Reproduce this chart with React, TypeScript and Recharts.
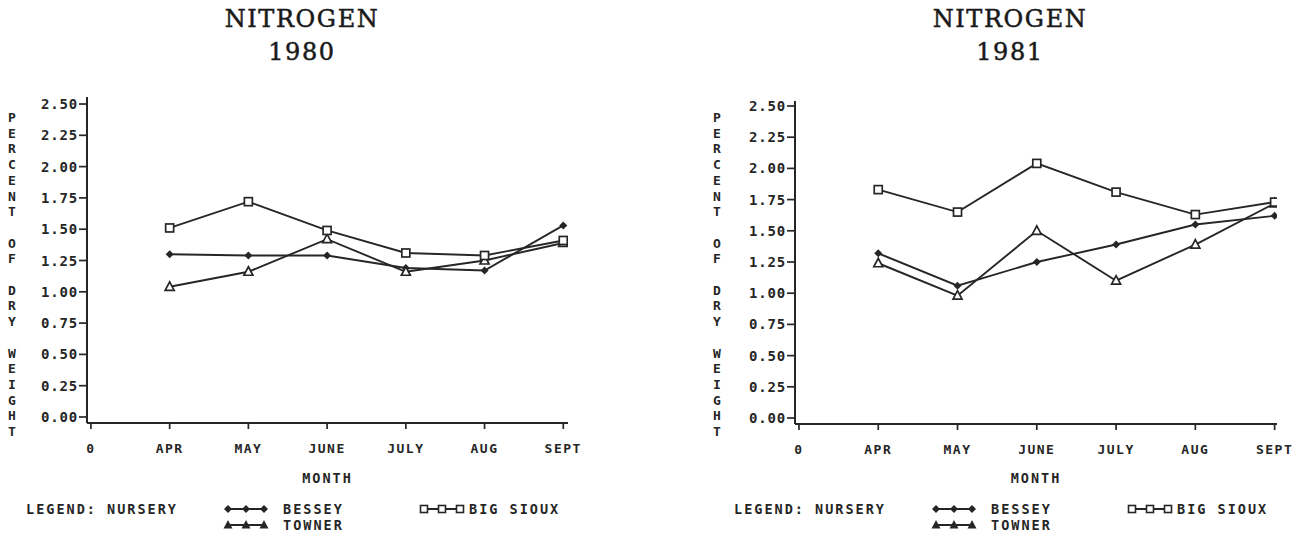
import React from "react";
import { LineChart, Line, XAxis, YAxis } from "recharts";

// month ticks on the x axis ("0" is the origin tick, no data there)
const months = ["0", "APR", "MAY", "JUNE", "JULY", "AUG", "SEPT"];
const monthIndex = [1, 2, 3, 4, 5, 6];
const yTicks = [0, 0.25, 0.5, 0.75, 1, 1.25, 1.5, 1.75, 2, 2.25, 2.5];

// percent nitrogen of dry weight
const bessey1980 = [1.3, 1.29, 1.29, 1.19, 1.17, 1.53];
const bigSioux1980 = [1.51, 1.72, 1.49, 1.31, 1.29, 1.41];
const towner1980 = [1.04, 1.16, 1.42, 1.16, 1.25, 1.39];

const bessey1981 = [1.32, 1.06, 1.25, 1.39, 1.55, 1.62];
const bigSioux1981 = [1.83, 1.65, 2.04, 1.81, 1.63, 1.73];
const towner1981 = [1.24, 0.98, 1.5, 1.1, 1.39, 1.72];

const INK = "#262626";
const MONO = "'DejaVu Sans Mono', monospace";
const SERIF = "'DejaVu Serif', serif";
const CHART_W = 600;
const CHART_H = 538;
const X_AXIS_H = 30;
const Y_AXIS_W = 60;

const Diamond = ({ cx, cy }: { cx: number; cy: number }) => (
  <polygon
    points={`${cx},${cy - 4} ${cx + 4},${cy} ${cx},${cy + 4} ${cx - 4},${cy}`}
    fill={INK}
  />
);
const Square = ({ cx, cy }: { cx: number; cy: number }) => (
  <rect x={cx - 4} y={cy - 4} width={8} height={8} fill="#fff" stroke={INK} strokeWidth={1.7} />
);
const Triangle = ({ cx, cy }: { cx: number; cy: number }) => (
  <polygon
    points={`${cx},${cy - 5} ${cx + 4.5},${cy + 3.5} ${cx - 4.5},${cy + 3.5}`}
    fill="#fff"
    stroke={INK}
    strokeWidth={1.7}
  />
);
// the legend draws the towner marks filled
const FilledTriangle = ({ cx, cy }: { cx: number; cy: number }) => (
  <polygon
    points={`${cx},${cy - 5} ${cx + 4.5},${cy + 3.5} ${cx - 4.5},${cy + 3.5}`}
    fill={INK}
  />
);
const SmallSquare = ({ cx, cy }: { cx: number; cy: number }) => (
  <rect x={cx - 3.5} y={cy - 3.5} width={7} height={7} fill="#fff" stroke={INK} strokeWidth={1.6} />
);

const dotOf = (Shape: any) => (p: any) => <Shape key={p.index} cx={p.cx} cy={p.cy} />;

const XTick = ({ x, y, payload }: any) => (
  <text
    x={x}
    y={y + 22}
    textAnchor="middle"
    fontFamily={MONO}
    fontSize={13}
    fontWeight="bold"
    letterSpacing={1.5}
    fill={INK}
  >
    {months[payload.value]}
  </text>
);

const YTick = ({ x, y, payload }: any) => (
  <text
    x={x}
    y={y + 5}
    textAnchor="end"
    fontFamily={MONO}
    fontSize={14}
    fontWeight="bold"
    letterSpacing={0.8}
    fill={INK}
  >
    {payload.value.toFixed(2)}
  </text>
);

const monoText: React.CSSProperties = {
  position: "absolute",
  fontFamily: MONO,
  fontSize: 13.5,
  fontWeight: "bold",
  letterSpacing: 2,
  color: INK,
  whiteSpace: "nowrap",
  lineHeight: "14px",
};

function LegendSymbol({ left, top, Shape }: { left: number; top: number; Shape: any }) {
  return (
    <svg style={{ position: "absolute", left, top }} width={46} height={12}>
      <line x1={4} y1={6} x2={42} y2={6} stroke={INK} strokeWidth={1.8} />
      {[5, 23, 41].map((cx) => (
        <Shape key={cx} cx={cx} cy={6} />
      ))}
    </svg>
  );
}

function Panel(props: {
  year: string;
  bessey: number[];
  bigSioux: number[];
  towner: number[];
  left: number;
  plotLeft: number;
  plotRight: number;
  plotTop: number;
  plotBottom: number;
  xDomain: [number, number];
  yDomain: [number, number];
  labelX: number;
  shift: number;
}) {
  const { left, shift } = props;
  const rows = monthIndex.map((m, i) => ({
    m,
    bessey: props.bessey[i],
    bigSioux: props.bigSioux[i],
    towner: props.towner[i],
  }));
  const letters = "PERCENT OF DRY WEIGHT".split("");
  const plotMid = (props.plotLeft + props.plotRight) / 2;

  return (
    <>
      <div
        style={{
          position: "absolute",
          left: 302 + shift - 150,
          top: 3,
          width: 300,
          textAlign: "center",
          fontFamily: SERIF,
          fontSize: 24,
          letterSpacing: 1.6,
          lineHeight: "33px",
          color: "#1a1a1a",
          WebkitTextStroke: "0.5px #1a1a1a",
        }}
      >
        NITROGEN
        <br />
        {props.year}
      </div>

      {letters.map((ch, i) => (
        <div
          key={i}
          style={{ ...monoText, left: props.labelX - 5, top: 111 + i * 15.7, fontSize: 13, letterSpacing: 0 }}
        >
          {ch}
        </div>
      ))}

      <div style={{ position: "absolute", left, top: 0 }}>
        <LineChart
          width={CHART_W}
          height={CHART_H}
          data={rows}
          margin={{
            top: props.plotTop,
            bottom: CHART_H - props.plotBottom - X_AXIS_H,
            left: props.plotLeft - left - Y_AXIS_W,
            right: left + CHART_W - props.plotRight,
          }}
        >
          <XAxis
            dataKey="m"
            type="number"
            domain={props.xDomain}
            allowDataOverflow
            ticks={[0, 1, 2, 3, 4, 5, 6]}
            height={X_AXIS_H}
            tickSize={6}
            tickMargin={2}
            axisLine={{ stroke: INK, strokeWidth: 2 }}
            tickLine={{ stroke: INK, strokeWidth: 1.7 }}
            tick={<XTick />}
          />
          <YAxis
            type="number"
            domain={props.yDomain}
            allowDataOverflow
            ticks={yTicks}
            width={Y_AXIS_W}
            tickSize={8}
            tickMargin={1}
            axisLine={{ stroke: INK, strokeWidth: 2 }}
            tickLine={{ stroke: INK, strokeWidth: 1.7 }}
            tick={<YTick />}
          />
          <Line
            dataKey="bessey"
            stroke={INK}
            strokeWidth={1.9}
            dot={dotOf(Diamond)}
            isAnimationActive={false}
          />
          <Line
            dataKey="towner"
            stroke={INK}
            strokeWidth={1.9}
            dot={dotOf(Triangle)}
            isAnimationActive={false}
          />
          <Line
            dataKey="bigSioux"
            stroke={INK}
            strokeWidth={1.9}
            dot={dotOf(Square)}
            isAnimationActive={false}
          />
        </LineChart>
      </div>

      <div style={{ ...monoText, left: plotMid - 60, width: 120, textAlign: "center", top: 471 }}>MONTH</div>

      <div style={{ ...monoText, left: 26 + shift, top: 502 }}>LEGEND: NURSERY</div>
      <LegendSymbol left={223 + shift} top={503} Shape={Diamond} />
      <div style={{ ...monoText, left: 283 + shift, top: 502 }}>BESSEY</div>
      <LegendSymbol left={223 + shift} top={519} Shape={FilledTriangle} />
      <div style={{ ...monoText, left: 283 + shift, top: 518 }}>TOWNER</div>
      <LegendSymbol left={419 + shift} top={503} Shape={SmallSquare} />
      <div style={{ ...monoText, left: 469 + shift, top: 502 }}>BIG SIOUX</div>
    </>
  );
}

export default function App() {
  return (
    <div
      style={{
        position: "absolute",
        left: 0,
        top: 0,
        width: 1301,
        height: 538,
        background: "#fff",
        overflow: "hidden",
      }}
    >
      <Panel
        year="1980"
        bessey={bessey1980}
        bigSioux={bigSioux1980}
        towner={towner1980}
        left={0}
        plotLeft={87}
        plotRight={568}
        plotTop={97}
        plotBottom={423}
        xDomain={[-0.05, 6.06]}
        yDomain={[-0.048, 2.556]}
        labelX={13}
        shift={0}
      />
      <Panel
        year="1981"
        bessey={bessey1981}
        bigSioux={bigSioux1981}
        towner={towner1981}
        left={700}
        plotLeft={795}
        plotRight={1277}
        plotTop={101}
        plotBottom={424}
        xDomain={[-0.05, 6.03]}
        yDomain={[-0.048, 2.54]}
        labelX={718}
        shift={708}
      />
    </div>
  );
}
